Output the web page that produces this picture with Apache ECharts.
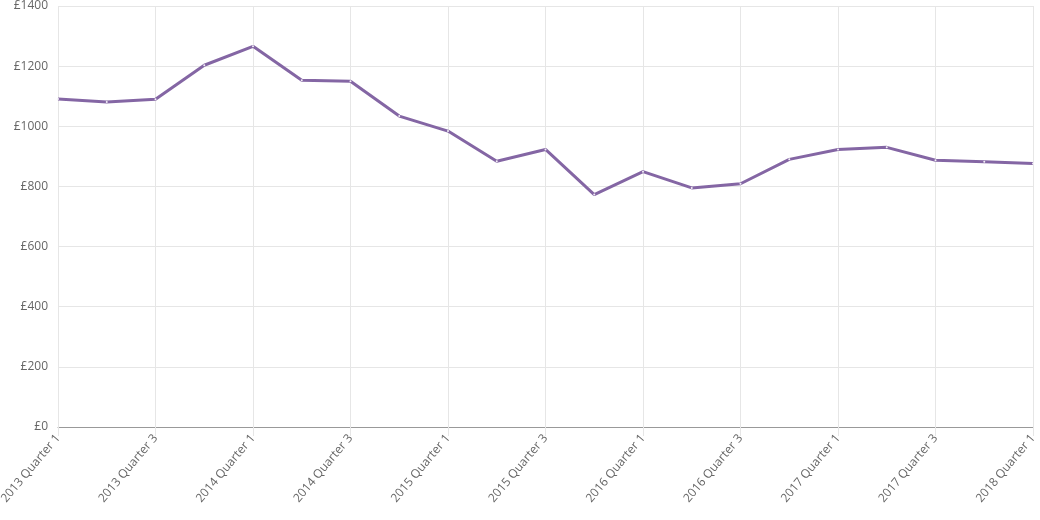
<!DOCTYPE html>
<html>
<head>
<meta charset="utf-8">
<script src="https://cdn.jsdelivr.net/npm/echarts@6/dist/echarts.min.js"></script>
<style>
  html, body { margin: 0; padding: 0; background: #fff; }
  #chart { width: 1040px; height: 520px; }
</style>
</head>
<body>
<div id="chart"></div>
<script>
// quarters shown on the x axis
var quarters = [
    '2013 Quarter 1', '2013 Quarter 2', '2013 Quarter 3', '2013 Quarter 4',
    '2014 Quarter 1', '2014 Quarter 2', '2014 Quarter 3', '2014 Quarter 4',
    '2015 Quarter 1', '2015 Quarter 2', '2015 Quarter 3', '2015 Quarter 4',
    '2016 Quarter 1', '2016 Quarter 2', '2016 Quarter 3', '2016 Quarter 4',
    '2017 Quarter 1', '2017 Quarter 2', '2017 Quarter 3', '2017 Quarter 4',
    '2018 Quarter 1'
];
// values in pounds
var values = [
    1091, 1081, 1090, 1203,
    1266, 1153, 1150, 1034,
    984, 884, 923, 773,
    849, 795, 809, 890,
    923, 930, 887, 882,
    876
];
var yMin = 0, yMax = 1400, yStep = 200;

var lineColor = '#8466a4';
var myChart = echarts.init(document.getElementById('chart'));
myChart.setOption({
    animation: false,
    grid: { left: 58, right: 7, top: 6, bottom: 93, containLabel: false, outerBoundsMode: 'none' },
    xAxis: {
        type: 'category',
        boundaryGap: false,
        data: quarters,
        axisLine: { lineStyle: { color: '#999', width: 1 } },
        axisTick: { show: true, interval: 1, length: 9, lineStyle: { color: '#e6e6e6' } },
        axisLabel: {
            interval: 1,
            rotate: 50,
            color: '#666',
            fontSize: 12,
            fontFamily: 'Open Sans',
            margin: 9
        },
        splitLine: { show: true, interval: 1, lineStyle: { color: '#e6e6e6', width: 1 } }
    },
    yAxis: {
        type: 'value',
        min: yMin,
        max: yMax,
        interval: yStep,
        axisLine: { show: false },
        axisTick: { show: false },
        axisLabel: {
            color: '#666',
            fontSize: 12,
            fontFamily: 'Open Sans',
            margin: 10,
            formatter: function (v) { return '£' + v; }
        },
        splitLine: { lineStyle: { color: '#e6e6e6', width: 1 } }
    },
    series: [{
        type: 'line',
        data: values,
        symbol: 'circle',
        symbolSize: 2,
        itemStyle: { color: '#f4f0f8', borderWidth: 0 },
        lineStyle: { color: lineColor, width: 3 }
    }]
});
</script>
</body>
</html>
